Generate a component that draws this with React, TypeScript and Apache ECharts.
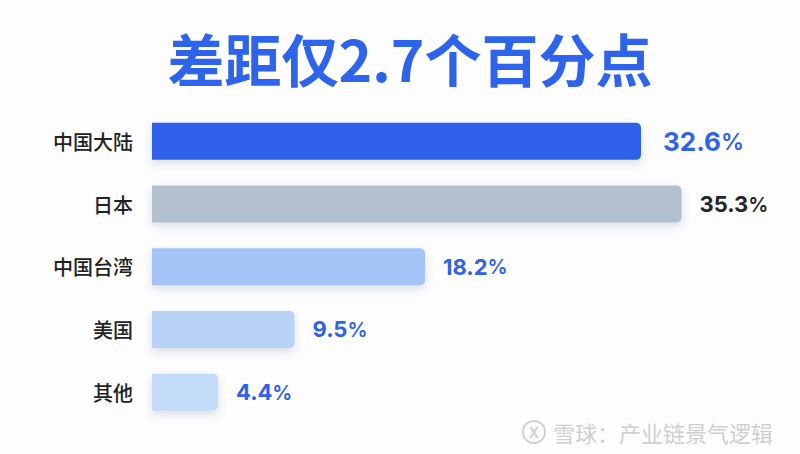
import React, { useEffect, useRef } from "react";
import * as echarts from "echarts";

const categories = ["中国大陆", "日本", "中国台湾", "美国", "其他"];
const values = [32.6, 35.3, 18.2, 9.5, 4.4];
const titleText = "差距仅2.7个百分点";
const watermarkText = "雪球：产业链景气逻辑";

const barColors = ["#2f61e9", "#b3c0cf", "#a3c4f4", "#b9d3f6", "#c4dbf8"];
const labelColors = ["#2f61e9", "#23252b", "#2f61e9", "#2f61e9", "#2f61e9"];
const labelSizes = [26, 22, 22, 22, 22];

export default function App() {
  const ref = useRef<HTMLDivElement>(null);
  useEffect(() => {
    if (!ref.current) return;
    const chart = echarts.init(ref.current, undefined, { renderer: "svg" });
    const numFont = 'Inter, "Noto Sans CJK SC", sans-serif';
    chart.setOption({
      animation: false,
      backgroundColor: "#fdfdfe",
      graphic: [
        {
          type: "text",
          x: 410,
          y: 57,
          style: {
            text: titleText,
            fill: "#2e64ec",
            fontSize: 57,
            fontWeight: "bold",
            align: "center",
            verticalAlign: "middle",
            fontFamily: '"Noto Sans CJK SC", sans-serif',
          },
        },
        {
          type: "circle",
          shape: { cx: 534, cy: 432, r: 11 },
          style: { fill: "none", stroke: "#d0d0d0", lineWidth: 2 },
        },
        {
          type: "text",
          x: 534,
          y: 432,
          style: {
            text: "X",
            fill: "#d0d0d0",
            fontSize: 14,
            fontWeight: "bold",
            align: "center",
            verticalAlign: "middle",
            fontFamily: numFont,
          },
        },
        {
          type: "text",
          x: 553,
          y: 432,
          style: {
            text: watermarkText,
            fill: "#cfcfcf",
            fontSize: 22,
            verticalAlign: "middle",
            fontFamily: '"Noto Sans CJK SC", sans-serif',
            textShadowColor: "rgba(150,150,150,0.35)",
            textShadowOffsetX: 1,
            textShadowOffsetY: 1,
          },
        },
      ],
      grid: { left: 152, right: 48, top: 110, bottom: 30.5, containLabel: false },
      xAxis: { type: "value", min: 0, max: 40, show: false },
      yAxis: {
        type: "category",
        data: categories,
        inverse: true,
        axisLine: { show: false },
        axisTick: { show: false },
        splitLine: { show: false },
        axisLabel: {
          margin: 19,
          fontSize: 20,
          fontWeight: 500,
          color: "#222222",
          fontFamily: '"Noto Sans CJK SC", sans-serif',
        },
      },
      series: [
        {
          type: "bar",
          barWidth: 37,
          data: values.map((v, i) => ({
            value: v,
            itemStyle: {
              color: barColors[i],
              borderRadius: [0, 5, 5, 0],
              shadowColor: "rgba(60,80,120,0.18)",
              shadowBlur: 8,
              shadowOffsetY: 4,
            },
            label: {
              show: true,
              position: "right",
              distance: i === 0 ? 22 : 18,
              formatter: (p: any) => "{n|" + p.value + "}{p|%}",
              rich: {
                n: {
                  fontFamily: numFont,
                  fontWeight: "bold",
                  fontSize: labelSizes[i],
                  color: labelColors[i],
                },
                p: {
                  fontFamily: numFont,
                  fontWeight: 600,
                  fontSize: Math.round(labelSizes[i] * 0.9),
                  color: labelColors[i],
                  padding: [1, 0, 0, 0],
                },
              },
            },
          })),
        },
      ],
    });
    return () => chart.dispose();
  }, []);
  return (
    <div
      ref={ref}
      style={{ position: "fixed", left: 0, top: 0, width: 800, height: 454 }}
    />
  );
}
